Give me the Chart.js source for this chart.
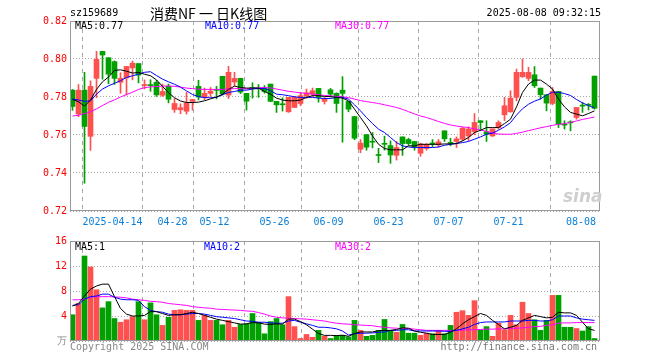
<!DOCTYPE html>
<html>
<head>
<meta charset="utf-8">
<script src="https://cdn.jsdelivr.net/npm/chart.js@4.4.0/dist/chart.umd.min.js"></script>
<style>
  body { margin: 0; background: #fff; }
  #wrap { position: relative; width: 660px; height: 360px; overflow: hidden; font-family: "DejaVu Sans Mono", monospace; font-size: 10px; }
  .t { position: absolute; white-space: pre; line-height: 1; transform: translateY(-50%); }
  canvas { position: absolute; left: 0; }
</style>
</head>
<body>
<div id="wrap">
  <canvas id="priceChart" width="660" height="235" style="top:0"></canvas>
  <canvas id="volChart" width="660" height="128" style="top:232px"></canvas>

  <div class="t" style="left:70px;top:13px;color:#000">sz159689</div>
  <div class="t" style="left:150px;top:13px;color:#000;font-family:'Noto Sans CJK SC',sans-serif;font-size:14px">消费NF 一 日K线图</div>
  <div class="t" style="right:59px;top:13px;color:#000">2025-08-08 09:32:15</div>

  <div class="t" style="left:75px;top:26px;color:#000">MA5:0.77</div>
  <div class="t" style="left:205px;top:26px;color:#0000ff">MA10:0.77</div>
  <div class="t" style="left:335px;top:26px;color:#ff00ff">MA30:0.77</div>

  <div class="t" style="left:563px;top:196px;color:#cfcfcf;font-family:'DejaVu Sans',sans-serif;font-size:17px;font-weight:bold;font-style:italic">sina</div>

  <div class="t" style="left:75px;top:247px;color:#000">MA5:1</div>
  <div class="t" style="left:204px;top:247px;color:#0000ff">MA10:2</div>
  <div class="t" style="left:335px;top:247px;color:#ff00ff">MA30:2</div>

  <div class="t" style="left:70px;top:347px;color:#888">Copyright 2025 SINA.COM</div>
  <div class="t" style="right:63px;top:347px;color:#777">http://finance.sina.com.cn</div>
</div>

<script>
// --- datos (2025-04-02 .. 2025-08-08, 88 sesiones) ---
const opens = [
  0.7836, 0.7710, 0.7836, 0.7593, 0.7898, 0.8040, 0.8007, 0.7986, 0.7877, 0.7901,
  0.7953, 0.7976, 0.7860, 0.7863, 0.7877, 0.7809, 0.7857, 0.7734, 0.7733, 0.7725,
  0.7777, 0.7856, 0.7798, 0.7819, 0.7838, 0.7909, 0.7810, 0.7879, 0.7898, 0.7819,
  0.7850, 0.7846, 0.7845, 0.7868, 0.7777, 0.7762, 0.7722, 0.7745, 0.7766, 0.7807,
  0.7815, 0.7845, 0.7777, 0.7838, 0.7819, 0.7836, 0.7777, 0.7697, 0.7525, 0.7602,
  0.7566, 0.7495, 0.7555, 0.7544, 0.7493, 0.7590, 0.7576, 0.7566, 0.7504, 0.7529,
  0.7557, 0.7548, 0.7622, 0.7560, 0.7566, 0.7578, 0.7595, 0.7617, 0.7675, 0.7617,
  0.7595, 0.7639, 0.7706, 0.7722, 0.7798, 0.7907, 0.7898, 0.7917, 0.7847, 0.7812,
  0.7766, 0.7829, 0.7655, 0.7668, 0.7692, 0.7756, 0.7760, 0.7910
];
const highs = [
  0.7840, 0.7866, 0.7930, 0.7885, 0.8040, 0.8040, 0.8007, 0.7990, 0.7928, 0.7961,
  0.7989, 0.7976, 0.7890, 0.7891, 0.7888, 0.7868, 0.7868, 0.7792, 0.7764, 0.7824,
  0.7787, 0.7888, 0.7847, 0.7850, 0.7856, 0.7909, 0.7961, 0.7930, 0.7898, 0.7819,
  0.7875, 0.7866, 0.7860, 0.7868, 0.7777, 0.7796, 0.7798, 0.7803, 0.7824, 0.7842,
  0.7847, 0.7845, 0.7798, 0.7845, 0.7822, 0.7907, 0.7777, 0.7697, 0.7576, 0.7602,
  0.7613, 0.7530, 0.7594, 0.7569, 0.7566, 0.7590, 0.7583, 0.7566, 0.7557, 0.7555,
  0.7576, 0.7576, 0.7622, 0.7583, 0.7590, 0.7640, 0.7643, 0.7713, 0.7675, 0.7675,
  0.7632, 0.7675, 0.7798, 0.7833, 0.7947, 0.8000, 0.7956, 0.7960, 0.7847, 0.7812,
  0.7850, 0.7829, 0.7675, 0.7675, 0.7745, 0.7771, 0.7766, 0.7910
];
const lows = [
  0.7730, 0.7696, 0.7346, 0.7519, 0.7797, 0.7894, 0.7870, 0.7866, 0.7820, 0.7810,
  0.7890, 0.7874, 0.7842, 0.7830, 0.7803, 0.7803, 0.7769, 0.7719, 0.7712, 0.7710,
  0.7731, 0.7785, 0.7785, 0.7803, 0.7790, 0.7810, 0.7792, 0.7858, 0.7818, 0.7731,
  0.7794, 0.7798, 0.7820, 0.7777, 0.7719, 0.7726, 0.7719, 0.7745, 0.7754, 0.7792,
  0.7803, 0.7773, 0.7763, 0.7800, 0.7719, 0.7562, 0.7722, 0.7575, 0.7507, 0.7520,
  0.7532, 0.7455, 0.7520, 0.7451, 0.7468, 0.7493, 0.7546, 0.7520, 0.7488, 0.7520,
  0.7539, 0.7536, 0.7566, 0.7543, 0.7534, 0.7569, 0.7569, 0.7601, 0.7622, 0.7566,
  0.7592, 0.7631, 0.7675, 0.7720, 0.7780, 0.7903, 0.7886, 0.7850, 0.7789, 0.7727,
  0.7759, 0.7639, 0.7631, 0.7622, 0.7683, 0.7719, 0.7731, 0.7736
];
const closes = [
  0.7750, 0.7836, 0.7645, 0.7856, 0.7998, 0.8021, 0.7920, 0.7898, 0.7898, 0.7961,
  0.7978, 0.7915, 0.7866, 0.7860, 0.7811, 0.7829, 0.7788, 0.7766, 0.7744, 0.7768,
  0.7787, 0.7800, 0.7819, 0.7831, 0.7835, 0.7817, 0.7930, 0.7898, 0.7826, 0.7778,
  0.7845, 0.7843, 0.7829, 0.7777, 0.7759, 0.7759, 0.7798, 0.7798, 0.7807, 0.7822,
  0.7833, 0.7798, 0.7789, 0.7815, 0.7766, 0.7819, 0.7736, 0.7583, 0.7557, 0.7536,
  0.7562, 0.7492, 0.7551, 0.7495, 0.7534, 0.7555, 0.7555, 0.7537, 0.7553, 0.7551,
  0.7553, 0.7564, 0.7580, 0.7556, 0.7580, 0.7636, 0.7632, 0.7666, 0.7666, 0.7604,
  0.7632, 0.7666, 0.7754, 0.7794, 0.7930, 0.7930, 0.7930, 0.7859, 0.7812, 0.7768,
  0.7829, 0.7657, 0.7652, 0.7664, 0.7745, 0.7752, 0.7756, 0.7741
];
const ma5 = [
  0.7787, 0.7775, 0.7752, 0.7784, 0.7840, 0.7880, 0.7905, 0.7940, 0.7943, 0.7936,
  0.7926, 0.7929, 0.7920, 0.7912, 0.7890, 0.7856, 0.7823, 0.7796, 0.7779, 0.7771,
  0.7771, 0.7773, 0.7780, 0.7790, 0.7800, 0.7815, 0.7840, 0.7857, 0.7850, 0.7847,
  0.7847, 0.7847, 0.7829, 0.7815, 0.7794, 0.7784, 0.7780, 0.7780, 0.7784, 0.7798,
  0.7807, 0.7807, 0.7803, 0.7802, 0.7798, 0.7794, 0.7780, 0.7736, 0.7692, 0.7648,
  0.7595, 0.7551, 0.7529, 0.7522, 0.7522, 0.7522, 0.7543, 0.7543, 0.7551, 0.7551,
  0.7551, 0.7551, 0.7553, 0.7553, 0.7555, 0.7569, 0.7587, 0.7613, 0.7625, 0.7639,
  0.7639, 0.7639, 0.7660, 0.7683, 0.7748, 0.7824, 0.7868, 0.7889, 0.7889, 0.7868,
  0.7842, 0.7789, 0.7748, 0.7719, 0.7710, 0.7701, 0.7713, 0.7727
];
const ma10 = [
  0.7789, 0.7784, 0.7777, 0.7780, 0.7815, 0.7842, 0.7859, 0.7872, 0.7886, 0.7903,
  0.7912, 0.7920, 0.7930, 0.7933, 0.7913, 0.7894, 0.7880, 0.7867, 0.7852, 0.7832,
  0.7813, 0.7802, 0.7797, 0.7796, 0.7798, 0.7812, 0.7824, 0.7829, 0.7836, 0.7836,
  0.7842, 0.7845, 0.7845, 0.7833, 0.7815, 0.7812, 0.7807, 0.7801, 0.7798, 0.7798,
  0.7798, 0.7794, 0.7792, 0.7792, 0.7798, 0.7798, 0.7789, 0.7759, 0.7727, 0.7692,
  0.7660, 0.7631, 0.7613, 0.7587, 0.7560, 0.7543, 0.7537, 0.7534, 0.7534, 0.7534,
  0.7534, 0.7537, 0.7546, 0.7551, 0.7555, 0.7560, 0.7566, 0.7578, 0.7590, 0.7604,
  0.7610, 0.7625, 0.7643, 0.7665, 0.7705, 0.7738, 0.7762, 0.7778, 0.7790, 0.7810,
  0.7825, 0.7825, 0.7818, 0.7808, 0.7787, 0.7769, 0.7755, 0.7742
];
const ma30 = [
  0.7700, 0.7704, 0.7712, 0.7722, 0.7738, 0.7755, 0.7772, 0.7785, 0.7800, 0.7813,
  0.7825, 0.7840, 0.7849, 0.7853, 0.7855, 0.7857, 0.7858, 0.7856, 0.7852, 0.7847,
  0.7844, 0.7841, 0.7840, 0.7840, 0.7840, 0.7840, 0.7843, 0.7844, 0.7844, 0.7843,
  0.7845, 0.7848, 0.7850, 0.7848, 0.7842, 0.7836, 0.7830, 0.7826, 0.7822, 0.7819,
  0.7815, 0.7812, 0.7808, 0.7806, 0.7804, 0.7801, 0.7797, 0.7789, 0.7781, 0.7776,
  0.7771, 0.7766, 0.7759, 0.7752, 0.7745, 0.7735, 0.7723, 0.7711, 0.7700, 0.7692,
  0.7682, 0.7671, 0.7661, 0.7653, 0.7647, 0.7643, 0.7639, 0.7632, 0.7626, 0.7619,
  0.7610, 0.7605, 0.7604, 0.7604, 0.7608, 0.7615, 0.7623, 0.7630, 0.7638, 0.7644,
  0.7651, 0.7656, 0.7660, 0.7666, 0.7674, 0.7682, 0.7688, 0.7695
];
// volumen (万)
const volume = [
  4.2, 6.0, 13.6, 11.85, 8.2, 5.3, 6.3, 3.6, 3.0, 3.4,
  3.9, 6.3, 3.4, 6.1, 4.2, 2.5, 3.8, 4.9, 5.0, 4.9,
  4.9, 3.3, 4.1, 3.3, 3.3, 2.6, 3.3, 2.2, 2.65, 2.75,
  4.4, 3.0, 1.15, 3.1, 3.6, 2.6, 7.1, 2.3, 0.4, 1.05,
  0.6, 1.7, 0.75, 0.4, 0.9, 0.9, 0.65, 3.3, 1.7, 0.75,
  0.9, 1.7, 3.45, 1.7, 1.4, 2.65, 1.25, 1.25, 0.9, 1.25,
  1.15, 1.7, 1.15, 2.5, 4.6, 4.85, 4.1, 6.45, 1.8, 2.3,
  0.75, 2.85, 1.8, 4.1, 2.6, 6.2, 4.4, 3.4, 1.7, 3.3,
  7.3, 7.3, 2.2, 2.2, 2.0, 1.6, 2.3, 0.4
];
const volMa5 = [
  5.6, 6.0, 7.2, 8.3, 8.8, 9.1, 9.1, 7.1, 5.2, 4.3,
  4.0, 4.0, 4.1, 4.7, 4.7, 4.4, 4.1, 4.2, 4.2, 4.4,
  4.6, 4.4, 4.1, 3.8, 3.5, 3.3, 3.1, 2.9, 2.7, 2.75,
  2.95, 2.9, 2.7, 2.65, 2.75, 2.7, 3.5, 3.5, 3.1, 2.6,
  1.9, 1.2, 0.9, 0.9, 0.87, 0.93, 0.75, 1.2, 1.45, 1.45,
  1.45, 1.65, 1.7, 1.7, 1.85, 2.1, 2.05, 1.6, 1.4, 1.25,
  1.05, 1.05, 1.05, 1.4, 1.95, 2.75, 3.4, 3.9, 4.4, 4.1,
  3.3, 2.65, 1.95, 2.2, 2.5, 3.3, 3.7, 4.1, 3.9, 3.7,
  3.8, 4.6, 4.5, 4.5, 4.1, 3.0, 1.95, 1.7
];
const volMa10 = [
  5.7, 5.8, 6.7, 7.1, 7.2, 7.5, 7.5, 7.0, 6.7, 6.6,
  6.6, 6.5, 5.5, 4.9, 4.7, 4.6, 4.3, 4.2, 4.2, 4.3,
  4.4, 4.4, 4.3, 4.1, 3.9, 3.8, 3.7, 3.6, 3.4, 3.2,
  3.15, 3.0, 3.0, 2.9, 2.85, 2.85, 3.2, 3.3, 3.0, 2.75,
  2.5, 2.2, 2.2, 2.1, 1.95, 1.6, 0.95, 1.15, 1.25, 1.25,
  1.3, 1.4, 1.45, 1.7, 1.7, 1.8, 1.8, 1.6, 1.6, 1.6,
  1.6, 1.6, 1.55, 1.55, 1.7, 1.95, 2.2, 2.65, 2.95, 3.05,
  3.05, 3.05, 3.05, 3.2, 3.2, 3.2, 3.3, 3.3, 3.2, 3.2,
  3.4, 4.0, 4.0, 4.0, 3.7, 3.5, 3.4, 3.3
];
const volMa30 = [
  6.6, 6.6, 6.7, 7.0, 7.1, 7.1, 7.1, 7.05, 7.0, 6.9,
  6.7, 6.6, 6.5, 6.35, 6.3, 6.2, 6.0, 5.9, 5.8, 5.7,
  5.5, 5.4, 5.3, 5.25, 5.1, 5.05, 5.0, 4.95, 4.9, 4.8,
  4.75, 4.55, 4.3, 4.0, 3.8, 3.7, 3.65, 3.6, 3.55, 3.5,
  3.4, 3.3, 3.2, 3.0, 2.85, 2.75, 2.7, 2.6, 2.55, 2.5,
  2.45, 2.3, 2.2, 2.1, 2.05, 2.0, 2.0, 1.9, 1.8, 1.7,
  1.7, 1.7, 1.7, 1.7, 1.7, 1.75, 1.8, 1.8, 1.85, 1.9,
  1.9, 1.95, 1.95, 2.0, 2.05, 2.1, 2.2, 2.3, 2.35, 2.5,
  2.6, 2.85, 2.9, 2.9, 2.95, 2.95, 2.95, 2.95
];
// etiquetas del eje de fechas (índice de sesión)
const dateIdx = [7, 17, 24, 34, 43, 53, 63, 73, 87];
const dateText = ['2025-04-14', '04-28', '05-12', '05-26', '06-09', '06-23', '07-07', '07-21', '08-08'];
const priceTicks = [0.72, 0.74, 0.76, 0.78, 0.80, 0.82];
const volTicks = [0, 4, 8, 12, 16];

const RED = '#ff5050';
const GREEN = '#00a000';
const MONO = '"DejaVu Sans Mono", monospace';
const XMIN = -2.5 / 6;
const XMAX = XMIN + 530 / 6;

const candleColors = opens.map((o, i) => closes[i] >= o ? RED : GREEN);
const pts = arr => arr.map((v, i) => ({ x: i, y: v }));

const frame = {
    id: 'frame',
    afterDraw(chart) {
        const { ctx, chartArea: a } = chart;
        ctx.save();
        ctx.strokeStyle = '#9a9a9a';
        ctx.lineWidth = 1;
        ctx.strokeRect(a.left + 0.5, a.top + 0.5, a.right - a.left - 1, a.bottom - a.top - 1);
        ctx.restore();
    }
};

const dateLabels = {
    id: 'dateLabels',
    afterDraw(chart) {
        const { ctx, chartArea: a, scales: { x } } = chart;
        ctx.save();
        ctx.font = '10px ' + MONO;
        ctx.fillStyle = '#0a7fd8';
        ctx.textBaseline = 'middle';
        dateIdx.forEach((k, j) => {
            const px = x.getPixelForValue(k - 1 / 3);
            const w = ctx.measureText(dateText[j]).width;
            let left = px - w / 2;
            if (left + w > a.right - 4) left = a.right - 4 - w;
            ctx.fillText(dateText[j], left, a.bottom + 11);
        });
        ctx.restore();
    }
};

function xScale(height) {
    return {
        type: 'linear', min: XMIN, max: XMAX, offset: false,
        afterBuildTicks: s => { s.ticks = dateIdx.map(k => ({ value: k - 1 / 3 })); },
        afterFit: s => { s.height = height; },
        ticks: { display: false },
        grid: { color: '#a8a8a8', drawTicks: false },
        border: { display: false, dash: [4, 4] }
    };
}

function maLines(a5, a10, a30) {
    return [
        { type: 'line', data: pts(a5), borderColor: '#000000', borderWidth: 1, pointRadius: 0, order: 0 },
        { type: 'line', data: pts(a10), borderColor: '#0000ff', borderWidth: 1, pointRadius: 0, order: 0 },
        { type: 'line', data: pts(a30), borderColor: '#ff00ff', borderWidth: 1, pointRadius: 0, order: 0 }
    ];
}

// barras sin agrupar: el ancho sale de maxBarThickness
const barOpts = { grouped: false, barPercentage: 1, categoryPercentage: 1, borderWidth: 0 };

// --- gráfico de velas ---
new Chart(document.getElementById('priceChart'), {
    type: 'bar',
    data: {
        datasets: [
            ...maLines(ma5, ma10, ma30),
            {
                ...barOpts,
                data: opens.map((o, i) => ({ x: i, y: [o, closes[i]] })),
                backgroundColor: candleColors, maxBarThickness: 5, minBarLength: 1, order: 1
            },
            {
                ...barOpts,
                data: lows.map((l, i) => ({ x: i, y: [l, highs[i]] })),
                backgroundColor: candleColors, maxBarThickness: 1, order: 2
            }
        ]
    },
    options: {
        responsive: false,
        animation: false,
        events: [],
        layout: { padding: { top: 21, right: 60, left: 0, bottom: 0 } },
        plugins: { legend: { display: false }, tooltip: { enabled: false } },
        scales: {
            x: xScale(24),
            y: {
                min: 0.72, max: 0.82, stacked: false,
                afterBuildTicks: s => { s.ticks = priceTicks.map(v => ({ value: v })); },
                afterFit: s => { s.width = 70; },
                ticks: { callback: v => v.toFixed(2), color: '#ff0000', padding: 3, font: { family: MONO, size: 10 } },
                grid: { color: '#a8a8a8', drawTicks: false },
                border: { display: false, dash: [1, 2] }
            }
        }
    },
    plugins: [frame, dateLabels]
});

// --- gráfico de volumen ---
new Chart(document.getElementById('volChart'), {
    type: 'bar',
    data: {
        datasets: [
            ...maLines(volMa5, volMa10, volMa30),
            {
                ...barOpts,
                data: pts(volume),
                backgroundColor: candleColors, maxBarThickness: 5, order: 1
            }
        ]
    },
    options: {
        responsive: false,
        animation: false,
        events: [],
        layout: { padding: { top: 8, right: 60, left: 0, bottom: 0 } },
        plugins: { legend: { display: false }, tooltip: { enabled: false } },
        scales: {
            x: xScale(19),
            y: {
                min: 0, max: 16,
                afterBuildTicks: s => { s.ticks = volTicks.map(v => ({ value: v })); },
                afterFit: s => { s.width = 70; },
                ticks: {
                    callback: v => v === 0 ? '万' : String(v),
                    color: c => c.tick && c.tick.value === 0 ? '#888888' : '#ff0000',
                    padding: 3, font: { family: MONO, size: 10 }
                },
                grid: { color: '#a8a8a8', drawTicks: false },
                border: { display: false, dash: [1, 2] }
            }
        }
    },
    plugins: [frame]
});
</script>
</body>
</html>
